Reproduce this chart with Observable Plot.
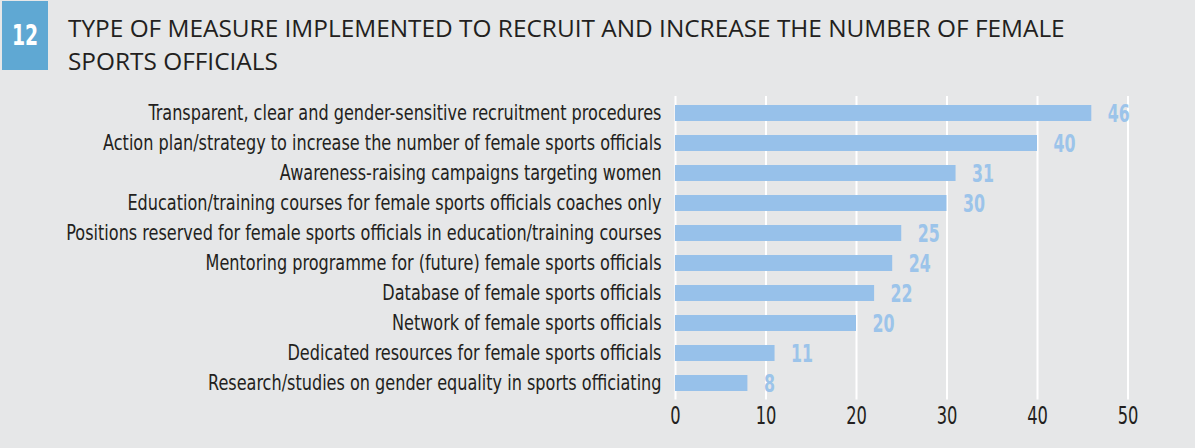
<!DOCTYPE html>
<html>
<head>
<meta charset="utf-8">
<script src="https://cdn.jsdelivr.net/npm/d3@7"></script>
<script src="https://cdn.jsdelivr.net/npm/@observablehq/plot@0.6"></script>
<style>
  html, body { margin: 0; padding: 0; background: #e6e7e8; }
  #wrap { position: relative; width: 1195px; height: 448px; background: #e6e7e8; overflow: hidden; }
  #head { position: relative; width: 1195px; height: 90px; }
  #num { position: absolute; left: 2px; top: 1px; width: 46px; height: 69px; background: #5fa8d3; }
  #num span { position: absolute; left: 0; width: 46px; top: 17px; text-align: center; color: #fff;
              font: bold 29px "DejaVu Sans Condensed", "DejaVu Sans", sans-serif; line-height: 34px;
              transform: scaleX(0.72); transform-origin: 23px 0; }
  #title { position: absolute; left: 68px; top: 11px; font-family: "Open Sans", sans-serif; font-size: 24.4px;
           line-height: 33px; color: #231f20; white-space: nowrap; }
  #chart svg { display: block; }
</style>
</head>
<body>
<div id="wrap">
  <div id="head">
    <div id="num"><span>12</span></div>
    <div id="title">TYPE OF MEASURE IMPLEMENTED TO RECRUIT AND INCREASE THE NUMBER OF FEMALE<br>SPORTS OFFICIALS</div>
  </div>
  <div id="chart"></div>
</div>
<script>
const categories = [
  "Transparent, clear and gender-sensitive recruitment procedures",
  "Action plan/strategy to increase the number of female sports officials",
  "Awareness-raising campaigns targeting women",
  "Education/training courses for female sports officials coaches only",
  "Positions reserved for female sports officials in education/training courses",
  "Mentoring programme for (future) female sports officials",
  "Database of female sports officials",
  "Network of female sports officials",
  "Dedicated resources for female sports officials",
  "Research/studies on gender equality in sports officiating"
];
const values = [46, 40, 31, 30, 25, 24, 22, 20, 11, 8];
const xTicks = [0, 10, 20, 30, 40, 50];

const data = categories.map((c, i) => ({category: c, value: values[i]}));
const narrow = '"Liberation Sans Narrow", "DejaVu Sans Condensed", "Roboto Condensed", sans-serif';

const chart = Plot.plot({
  width: 1195,
  height: 358,
  marginLeft: 675,
  marginRight: 67.5,
  marginTop: 6,
  marginBottom: 48.5,
  style: {background: "#e6e7e8", fontFamily: narrow, color: "#231f20"},
  x: {domain: [0, 50], ticks: xTicks, label: null},
  y: {domain: categories, paddingInner: 0.47, paddingOuter: 0.235, label: null},
  marks: [
    Plot.ruleX(xTicks, {stroke: "#ffffff", strokeWidth: 2}),
    Plot.barX(data, {x: "value", y: "category", fill: "#97c1ea"}),
    Plot.text(data, {x: "value", y: "category", text: d => String(d.value), textAnchor: "start", dx: 16, dy: 1,
      fill: "#9cc4ea", fontWeight: "bold", fontSize: 24, fontFamily: narrow}),
    Plot.axisY({tickSize: 0, tickPadding: 14, fontSize: 20.5, fill: "#231f20"}),
    Plot.axisX({ticks: xTicks, tickSize: 0, tickPadding: 7, fontSize: 24, fill: "#231f20"})
  ]
});
document.getElementById("chart").appendChild(chart);

// condense glyphs to mimic the narrow typeface of the original
function condense(selector, refIndex, targetWidth) {
  const nodes = Array.from(chart.querySelectorAll(selector));
  if (!nodes.length) return;
  const ref = nodes[refIndex].getComputedTextLength();
  const k = Math.min(1, targetWidth / ref);
  nodes.forEach(t => {
    const w = t.getComputedTextLength();
    t.setAttribute("textLength", w * k);
    t.setAttribute("lengthAdjust", "spacingAndGlyphs");
  });
}
condense('[aria-label="y-axis tick label"] text', 0, 513);
condense('[aria-label="x-axis tick label"] text', 1, 20.7);
condense('g[aria-label="text"] text', 0, 22);
</script>
</body>
</html>
